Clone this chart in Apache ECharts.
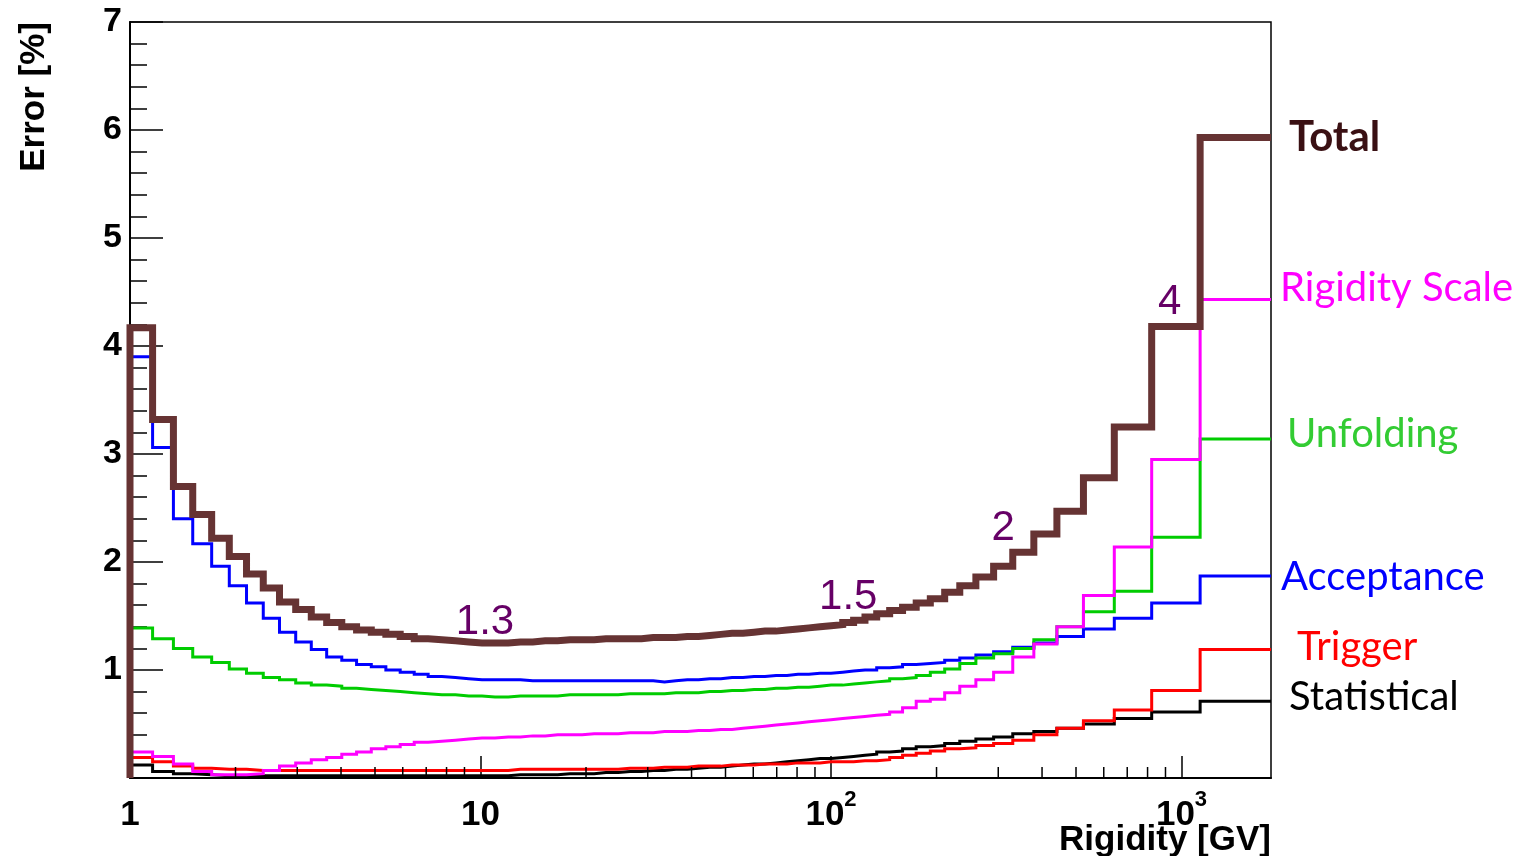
<!DOCTYPE html>
<html><head><meta charset="utf-8">
<script src="https://cdn.jsdelivr.net/npm/echarts@6/dist/echarts.min.js"></script>
<style>html,body{margin:0;padding:0;background:#fff}#c{width:1521px;height:856px}</style>
</head><body><div id="c"></div>
<script>
// Rigidity bin edges [GV]
const binEdges = [1,1.16,1.33,1.51,1.71,1.92,2.15,2.4,2.67,2.97,3.29,3.64,4.02,4.43,4.88,5.37,5.9,6.47,7.09,7.76,8.48,9.26,10.1,11,12,13,14.1,15.3,16.6,18,19.5,21.1,22.8,24.7,26.7,28.8,31.1,33.5,36.1,38.9,41.9,45.1,48.5,52.2,56.1,60.3,64.8,69.7,74.9,80.5,86.5,93,100,108,116,125,135,147,160,175,192,211,233,259,291,330,379,441,525,643,822,1130,1800];

const totalErr = [4.17,3.32,2.70,2.44,2.22,2.05,1.89,1.76,1.63,1.56,
 1.49,1.44,1.40,1.37,1.35,1.33,1.31,1.29,1.28,1.27,
 1.26,1.25,1.25,1.25,1.26,1.26,1.27,1.27,1.28,1.28,
 1.28,1.29,1.29,1.29,1.29,1.30,1.30,1.30,1.31,1.31,
 1.32,1.33,1.34,1.34,1.35,1.36,1.36,1.37,1.38,1.39,
 1.40,1.41,1.42,1.44,1.46,1.49,1.52,1.55,1.58,1.62,
 1.66,1.72,1.78,1.86,1.96,2.09,2.26,2.47,2.78,3.25,
 4.18,5.93];

const rigidityScaleErr = [0.24,0.20,0.13,0.06,0.03,0.03,0.04,0.07,0.11,0.14,
 0.17,0.19,0.22,0.24,0.27,0.29,0.31,0.33,0.34,0.35,
 0.36,0.37,0.37,0.38,0.38,0.39,0.39,0.40,0.40,0.40,
 0.41,0.41,0.41,0.42,0.42,0.42,0.43,0.43,0.43,0.44,
 0.44,0.45,0.45,0.46,0.47,0.48,0.49,0.50,0.51,0.52,
 0.53,0.54,0.55,0.56,0.57,0.58,0.59,0.61,0.65,0.71,
 0.73,0.79,0.85,0.91,0.98,1.12,1.24,1.40,1.69,2.14,
 2.95,4.43];

const unfoldingErr = [1.39,1.29,1.20,1.12,1.07,1.01,0.97,0.93,0.91,0.88,
 0.86,0.85,0.83,0.82,0.81,0.80,0.79,0.78,0.77,0.77,
 0.76,0.76,0.75,0.75,0.76,0.76,0.76,0.76,0.77,0.77,
 0.77,0.77,0.77,0.78,0.78,0.78,0.78,0.79,0.79,0.79,
 0.80,0.80,0.81,0.81,0.82,0.82,0.83,0.83,0.84,0.84,
 0.85,0.86,0.86,0.87,0.88,0.89,0.90,0.92,0.93,0.95,
 0.98,1.01,1.06,1.11,1.15,1.20,1.28,1.40,1.54,1.73,
 2.23,3.14];

const acceptanceErr = [3.90,3.06,2.40,2.17,1.96,1.78,1.62,1.48,1.35,1.26,
 1.19,1.12,1.09,1.05,1.03,1.00,0.98,0.96,0.94,0.93,
 0.92,0.91,0.91,0.91,0.91,0.90,0.90,0.90,0.90,0.90,
 0.90,0.90,0.90,0.90,0.90,0.90,0.89,0.90,0.91,0.91,
 0.92,0.92,0.93,0.93,0.94,0.94,0.95,0.95,0.96,0.96,
 0.97,0.97,0.98,0.99,1.00,1.00,1.02,1.03,1.05,1.06,
 1.07,1.09,1.11,1.14,1.17,1.21,1.25,1.31,1.38,1.48,
 1.62,1.87];

const triggerErr = [0.19,0.15,0.11,0.09,0.08,0.08,0.07,0.07,0.07,0.07,
 0.07,0.07,0.07,0.07,0.07,0.07,0.07,0.07,0.07,0.07,
 0.07,0.07,0.07,0.07,0.08,0.08,0.08,0.08,0.08,0.08,
 0.08,0.08,0.08,0.09,0.09,0.09,0.10,0.10,0.10,0.11,
 0.11,0.11,0.12,0.12,0.12,0.13,0.13,0.13,0.14,0.14,
 0.14,0.15,0.15,0.15,0.16,0.16,0.17,0.19,0.21,0.23,
 0.25,0.27,0.28,0.30,0.32,0.35,0.40,0.46,0.53,0.63,
 0.81,1.19];

const statisticalErr = [0.12,0.06,0.04,0.03,0.02,0.02,0.02,0.02,0.02,0.02,
 0.02,0.02,0.02,0.02,0.02,0.02,0.02,0.02,0.02,0.02,
 0.02,0.02,0.02,0.02,0.03,0.03,0.03,0.03,0.04,0.04,
 0.04,0.05,0.05,0.06,0.06,0.07,0.07,0.08,0.08,0.09,
 0.10,0.10,0.11,0.12,0.13,0.13,0.14,0.15,0.16,0.17,
 0.18,0.18,0.19,0.20,0.21,0.22,0.24,0.25,0.27,0.29,
 0.30,0.32,0.34,0.36,0.38,0.41,0.43,0.46,0.50,0.55,
 0.61,0.71];

const xTickValues = [1, 10, 100, 1000];
const xTickBase = ['1', '10', '10', '10'];
const xTickExp = ['', '', '2', '3'];
const xMinorTicks = [2,3,4,5,6,7,8,9,20,30,40,50,60,70,80,90,200,300,400,500,600,700,800,900];

const annotations = [
  {text: '1.3', x: 10.3, y: 1.44},
  {text: '1.5', x: 112, y: 1.67},
  {text: '2',   x: 310, y: 2.31},
  {text: '4',   x: 925, y: 4.40}
];

function histData(vals, fromZero) {
  const d = [];
  if (fromZero) d.push([binEdges[0], 0]);
  vals.forEach((v, i) => d.push([binEdges[i], v]));
  d.push([binEdges[binEdges.length - 1], vals[vals.length - 1]]);
  return d;
}

const LBL = 'Lato, "Open Sans", sans-serif';
const AX = '"Liberation Sans", Arial, sans-serif';

function stepSeries(name, vals, color, width, label, fromZero) {
  return {
    name, type: 'line', step: 'end', data: histData(vals, fromZero),
    showSymbol: false, symbol: 'none', clip: false, silent: true,
    lineStyle: {color, width, join: 'miter', cap: 'butt'},
    endLabel: Object.assign({show: true, formatter: name, fontFamily: LBL, fontSize: 40}, label),
    animation: false
  };
}

const chart = echarts.init(document.getElementById('c'), null, {renderer: 'canvas'});
chart.setOption({
  animation: false,
  backgroundColor: '#fff',
  grid: {left: 130, right: 250, top: 22, bottom: 78, show: true, borderColor: '#000', borderWidth: 1.5,
         containLabel: false, outerBoundsMode: 'none'},
  xAxis: {
    type: 'log', logBase: 10, min: 1, max: 1800,
    axisLine: {show: true, onZero: false, lineStyle: {color: '#000', width: 2}},
    axisTick: {show: true, inside: true, length: 22, lineStyle: {color: '#000', width: 1.5}},
    splitLine: {show: false},
    axisLabel: {
      show: true, margin: 11, showMaxLabel: false,
      formatter: function (v) {
        const i = xTickValues.findIndex(t => Math.abs(t - v) < 1e-6 * t);
        if (i < 0) return '';
        return '{b|' + xTickBase[i] + '}' + (xTickExp[i] ? '{s|' + xTickExp[i] + '}' : '');
      },
      rich: {
        b: {fontFamily: AX, fontWeight: 'bold', fontSize: 35, lineHeight: 52, color: '#000'},
        s: {fontFamily: AX, fontWeight: 'bold', fontSize: 22, lineHeight: 22, verticalAlign: 'top', color: '#000'}
      }
    },
    name: 'Rigidity [GV]', nameLocation: 'end', nameGap: 0, nameMoveOverlap: false,
    nameTextStyle: {fontFamily: AX, fontWeight: 'bold', fontSize: 35, color: '#000', align: 'right', verticalAlign: 'top', padding: [45, 0, 0, 0]}
  },
  yAxis: {
    type: 'value', min: 0, max: 7, interval: 1,
    axisLine: {show: true, onZero: false, lineStyle: {color: '#000', width: 2}},
    axisTick: {show: true, inside: true, length: 33, lineStyle: {color: '#000', width: 1.5}},
    minorTick: {show: true, splitNumber: 5, length: 17, lineStyle: {color: '#000', width: 1.5}},
    splitLine: {show: false},
    axisLabel: {margin: 8, fontFamily: AX, fontWeight: 'bold', fontSize: 34, color: '#000',
      formatter: v => (v === 0 ? '' : String(v))},
    name: 'Error [%]', nameLocation: 'end', nameRotate: 90, nameGap: 0, nameMoveOverlap: false,
    nameTextStyle: {fontFamily: AX, fontWeight: 'bold', fontSize: 35, color: '#000', align: 'right', verticalAlign: 'bottom', padding: [0, 0, 78, 0]}
  },
  series: [
    stepSeries('Statistical', statisticalErr, '#000000', 3, {color: '#000000', distance: 18, offset: [0, -4]}),
    stepSeries('Trigger', triggerErr, '#ff0000', 3, {color: '#ff0000', distance: 26, offset: [0, -2]}),
    stepSeries('Acceptance', acceptanceErr, '#0000ff', 3, {color: '#0000ff', distance: 10, offset: [0, 1]}),
    stepSeries('Unfolding', unfoldingErr, '#00cc00', 3, {color: '#33cc33', distance: 16, offset: [0, -5]}),
    stepSeries('Rigidity Scale', rigidityScaleErr, '#ff00ff', 3, {color: '#ff00ff', distance: 9, offset: [0, -11]}),
    Object.assign(stepSeries('Total', totalErr, '#663333', 7, {color: '#3a1013', fontWeight: 'bold', fontSize: 42, distance: 18, offset: [0, 0]}, true), {
      markPoint: {
        symbol: 'circle', symbolSize: 0.1, silent: true, animation: false,
        itemStyle: {color: 'rgba(0,0,0,0)'},
        label: {show: true, position: 'inside', formatter: p => p.name, fontFamily: AX, fontSize: 42, color: '#660066'},
        data: annotations.map(a => ({name: a.text, coord: [a.x, a.y]}))
      }
    }),
    {
      type: 'custom', silent: true, clip: false, z: 5, animation: false,
      data: xMinorTicks.map(v => [v, 0]),
      renderItem: function (params, api) {
        const p = api.coord([api.value(0), api.value(1)]);
        return {type: 'line', shape: {x1: p[0], y1: p[1], x2: p[0], y2: p[1] - 11}, style: {stroke: '#000', lineWidth: 1.5}};
      }
    }
  ]
});
</script>
</body></html>
